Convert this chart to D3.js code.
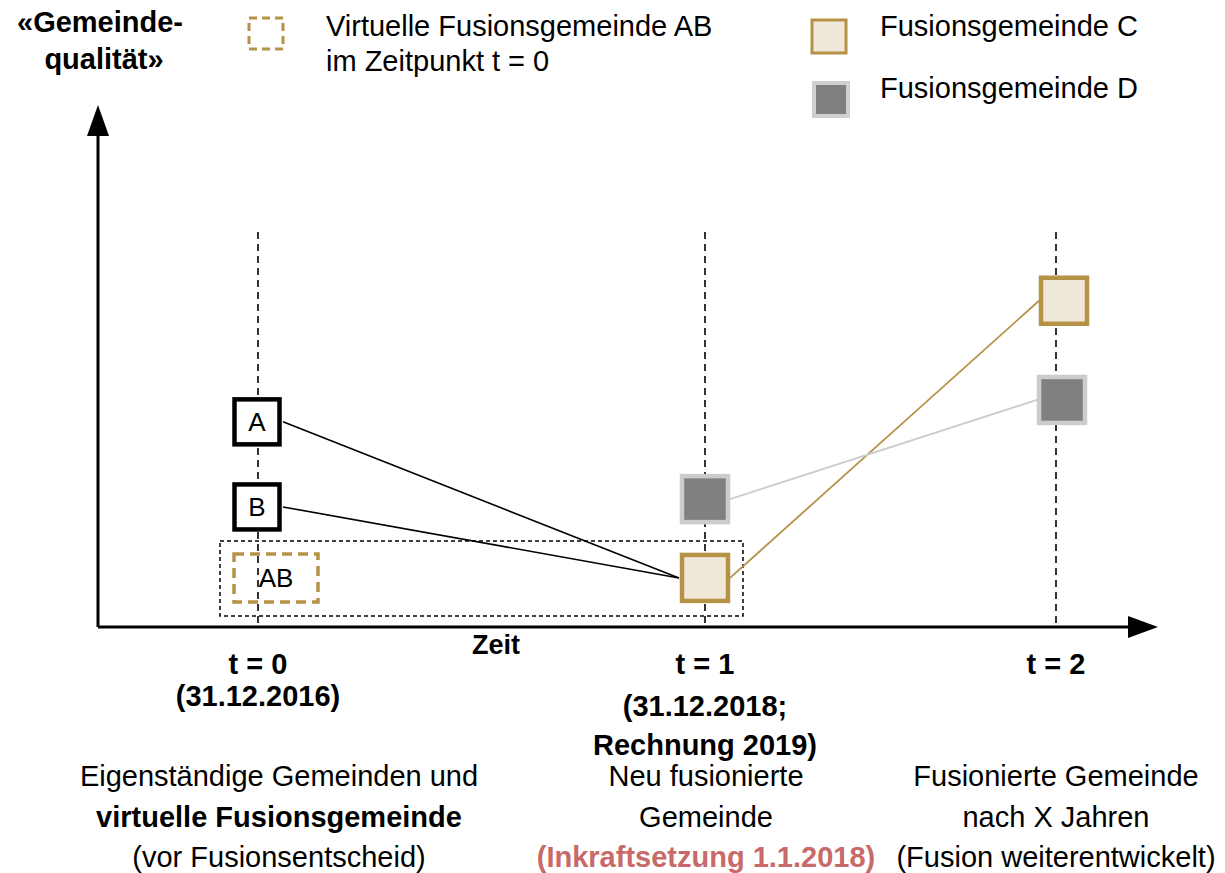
<!DOCTYPE html>
<html>
<head>
<meta charset="utf-8">
<script src="https://cdn.jsdelivr.net/npm/d3@7"></script>
<style>
  body { margin: 0; background: #fff; }
  svg text { font-family: "Liberation Sans", Arial, sans-serif; }
</style>
</head>
<body>
<div id="chart"></div>
<script>
// Zeitpunkte und Beschriftungen
const zeitpunkte = [0, 1, 2];
const zeitLabels = ["t = 0", "t = 1", "t = 2"];
const datumLabels = [["(31.12.2016)"], ["(31.12.2018;", "Rechnung 2019)"], []];
const beschreibungen = [
    ["Eigenständige Gemeinden und", "virtuelle Fusionsgemeinde", "(vor Fusionsentscheid)"],
    ["Neu fusionierte", "Gemeinde", "(Inkraftsetzung 1.1.2018)"],
    ["Fusionierte Gemeinde", "nach X Jahren", "(Fusion weiterentwickelt)"]
];

// «Gemeindequalität» je Gemeinde (Zeitpunkt, Wert)
const gemeindeA = [[0, 39.3], [1, 9.4]];
const gemeindeB = [[0, 23], [1, 9.4]];
const virtuellAB = [[0, 9.4]];
const fusionC = [[1, 9.4], [2, 62.5]];
const fusionD = [[1, 24.5], [2, 43.5]];

var width = 1225, height = 873;
var gold = "#b69247", beige = "#f0e9da", grau = "#808080", hellgrau = "#cccccc", rot = "#c86a6a";
var fs = "29px";

var svg = d3.select("#chart")
    .append("svg")
    .attr("width", width)
    .attr("height", height);

var x = d3.scaleLinear()
    .domain(zeitpunkte)
    .range([258, 705, 1056]);

var y = d3.scaleLinear()
    .domain([0, 100])
    .range([627, 105]);

// Achsen
svg.append("line")
    .attr("x1", 98).attr("x2", 98)
    .attr("y1", y(0)).attr("y2", 130)
    .attr("stroke", "#000").attr("stroke-width", 3);
svg.append("path")
    .attr("d", "M98,105 L87,136 L109,136 Z")
    .attr("fill", "#000");
svg.append("line")
    .attr("x1", 98).attr("x2", 1135)
    .attr("y1", y(0)).attr("y2", y(0))
    .attr("stroke", "#000").attr("stroke-width", 3);
svg.append("path")
    .attr("d", "M1158," + y(0) + " L1128," + (y(0) - 11) + " L1128," + (y(0) + 11) + " Z")
    .attr("fill", "#000");

// gestrichelte Zeitlinien
svg.selectAll(".zeitlinie")
    .data(zeitpunkte)
    .enter()
    .append("line")
    .attr("class", "zeitlinie")
    .attr("x1", d => x(d)).attr("x2", d => x(d))
    .attr("y1", 232).attr("y2", y(0))
    .attr("stroke", "#000")
    .attr("stroke-width", 1.6)
    .attr("stroke-dasharray", "7,5");

// Rahmen um virtuelle und neue Fusionsgemeinde
svg.append("rect")
    .attr("x", 220).attr("y", 541)
    .attr("width", 523).attr("height", 75)
    .attr("fill", "none")
    .attr("stroke", "#000")
    .attr("stroke-width", 1.5)
    .attr("stroke-dasharray", "4,3");

// Verbindungslinien (von Kastenrand zu Kastenrand)
function kante(p, q, h1, h2) {
    return [[x(p[0]) + h1, y(p[1])], [x(q[0]) - h2, y(q[1])]];
}
var linien = [
    {pts: kante(gemeindeA[0], gemeindeA[1], 25, 26), color: "#000", w: 1.6},
    {pts: kante(gemeindeB[0], gemeindeB[1], 25, 26), color: "#000", w: 1.6},
    {pts: kante(fusionC[0], fusionC[1], 25, 17), color: gold, w: 1.8},
    {pts: kante(fusionD[0], fusionD[1], 25, 19), color: hellgrau, w: 1.8}
];
svg.selectAll(".verbindung")
    .data(linien)
    .enter()
    .append("path")
    .attr("class", "verbindung")
    .attr("d", d => d3.line()(d.pts))
    .attr("fill", "none")
    .attr("stroke", d => d.color)
    .attr("stroke-width", d => d.w);

// Gemeinden A und B
var ab = [{name: "A", p: gemeindeA[0]}, {name: "B", p: gemeindeB[0]}];
var gAB = svg.selectAll(".gemeinde")
    .data(ab)
    .enter()
    .append("g")
    .attr("class", "gemeinde")
    .attr("transform", d => "translate(" + (x(d.p[0]) - 1) + "," + y(d.p[1]) + ")");
gAB.append("rect")
    .attr("x", -22.5).attr("y", -22.5)
    .attr("width", 45).attr("height", 45)
    .attr("fill", "#fff")
    .attr("stroke", "#000")
    .attr("stroke-width", 4.5);
gAB.append("text")
    .attr("text-anchor", "middle")
    .attr("dy", "0.36em")
    .style("font-size", "26px")
    .text(d => d.name);

// virtuelle Fusionsgemeinde AB
svg.selectAll(".virtuell")
    .data(virtuellAB)
    .enter()
    .append("rect")
    .attr("class", "virtuell")
    .attr("x", d => x(d[0]) - 24)
    .attr("y", d => y(d[1]) - 24)
    .attr("width", 84).attr("height", 48)
    .attr("fill", "none")
    .attr("stroke", gold)
    .attr("stroke-width", 3.5)
    .attr("stroke-dasharray", "10,6");
svg.selectAll(".virtuellText")
    .data(virtuellAB)
    .enter()
    .append("text")
    .attr("x", d => x(d[0]) + 18)
    .attr("y", d => y(d[1]))
    .attr("dy", "0.36em")
    .attr("text-anchor", "middle")
    .style("font-size", "26px")
    .text("AB");

// Fusionsgemeinden C und D
function kasten(data, fill, stroke, dx) {
    svg.selectAll(null)
        .data(data)
        .enter()
        .append("rect")
        .attr("x", d => x(d[0]) - 23 + (d[0] === 2 ? dx : 0))
        .attr("y", d => y(d[1]) - 23)
        .attr("width", 46).attr("height", 46)
        .attr("fill", fill)
        .attr("stroke", stroke)
        .attr("stroke-width", 4.5);
}
kasten(fusionD, grau, hellgrau, 6);
kasten(fusionC, beige, gold, 8);

// Achsentitel
var yTitel = svg.append("text")
    .attr("text-anchor", "middle")
    .style("font-size", fs)
    .style("font-weight", "bold");
yTitel.append("tspan").attr("x", 100).attr("y", 32).text("«Gemeinde-");
yTitel.append("tspan").attr("x", 104).attr("y", 69).text("qualität»");

svg.append("text")
    .attr("x", 496).attr("y", 654)
    .attr("text-anchor", "middle")
    .style("font-size", "27px")
    .style("font-weight", "bold")
    .text("Zeit");

// Zeitpunkt-Beschriftungen
var zeitG = svg.selectAll(".zeitlabel")
    .data(zeitpunkte)
    .enter()
    .append("text")
    .attr("class", "zeitlabel")
    .attr("text-anchor", "middle")
    .style("font-size", fs)
    .style("font-weight", "bold");
zeitG.append("tspan")
    .attr("x", d => x(d))
    .attr("y", 674)
    .text((d, i) => zeitLabels[i]);
zeitG.each(function(d, i) {
    var t = d3.select(this);
    datumLabels[i].forEach(function(s, j) {
        t.append("tspan")
            .attr("x", x(d))
            .attr("y", (i === 0 ? 706 : 716) + j * 39)
            .text(s);
    });
});

// Beschreibungen
var beschrX = [279, 706, 1056];
beschreibungen.forEach(function(zeilen, i) {
    var t = svg.append("text")
        .attr("text-anchor", "middle")
        .style("font-size", fs);
    zeilen.forEach(function(s, j) {
        var ts = t.append("tspan")
            .attr("x", beschrX[i])
            .attr("y", 786 + j * 40.5)
            .text(s);
        if (i === 0 && j === 1) ts.style("font-weight", "bold");
        if (i === 1 && j === 2) ts.style("font-weight", "bold").attr("fill", rot);
    });
});

// Legende
var legende = svg.append("g");
legende.append("rect")
    .attr("x", 249).attr("y", 18)
    .attr("width", 34).attr("height", 31)
    .attr("fill", "none")
    .attr("stroke", gold)
    .attr("stroke-width", 3)
    .attr("stroke-dasharray", "8,5");
var lt = legende.append("text").style("font-size", fs);
lt.append("tspan").attr("x", 326).attr("y", 36).text("Virtuelle Fusionsgemeinde AB");
lt.append("tspan").attr("x", 326).attr("y", 71).text("im Zeitpunkt t = 0");

legende.append("rect")
    .attr("x", 812).attr("y", 20)
    .attr("width", 34).attr("height", 33)
    .attr("fill", beige)
    .attr("stroke", gold)
    .attr("stroke-width", 3)
;
legende.append("text")
    .attr("x", 880).attr("y", 36)
    .style("font-size", fs)
    .text("Fusionsgemeinde C");

legende.append("rect")
    .attr("x", 814).attr("y", 83)
    .attr("width", 34).attr("height", 33)
    .attr("fill", grau)
    .attr("stroke", "#d0d0d0")
    .attr("stroke-width", 4);
legende.append("text")
    .attr("x", 880).attr("y", 98)
    .style("font-size", fs)
    .text("Fusionsgemeinde D");
</script>
</body>
</html>
